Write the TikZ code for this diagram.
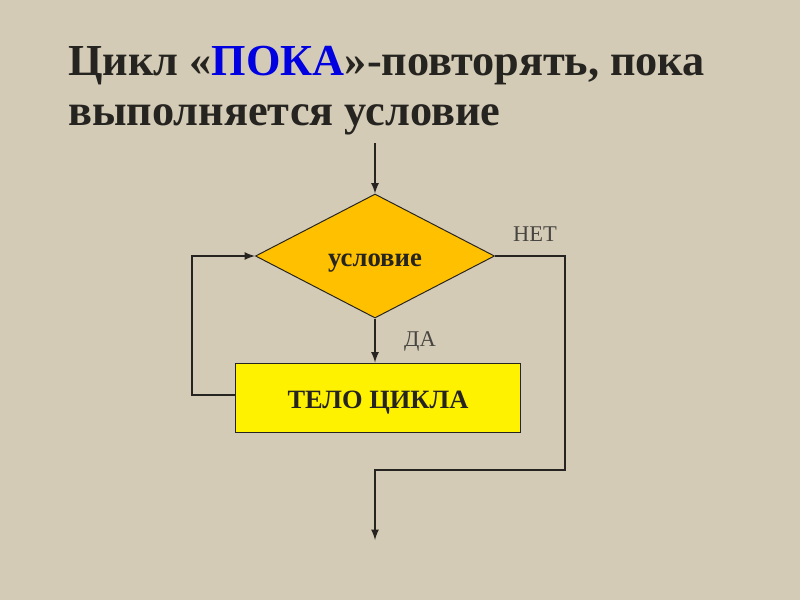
\documentclass[tikz,border=0pt]{standalone}
\usepackage{fontspec}
\setmainfont{Liberation Serif}
\usetikzlibrary{shapes.geometric}
\definecolor{linen}{RGB}{212,203,182}
\definecolor{ink}{RGB}{38,36,32}
\definecolor{amber}{RGB}{255,192,0}
\definecolor{pokablue}{RGB}{0,0,225}
\begin{document}
\begin{tikzpicture}[x=0.025cm, y=-0.025cm]
\tikzset{ >=latex,
  link/.style={->, ink, line width=1.5pt},
  cond/.style={diamond, draw=ink, fill=amber, line width=0.7pt, aspect=1.93,
    minimum width=5.975cm, minimum height=3.1cm, inner sep=0pt,
    font=\fontsize{19}{21}\selectfont\bfseries, text=ink},
  body/.style={rectangle, draw=ink, fill=yellow, line width=0.7pt,
    minimum width=7.1cm, minimum height=1.725cm, inner sep=0pt,
    font=\fontsize{18.8}{21}\selectfont\bfseries, text=ink},
  title/.style={anchor=base west, inner sep=0pt, text=ink,
    font=\fontsize{31.5}{38}\selectfont\bfseries},
  lbl/.style={inner sep=0pt, text=ink!85, font=\fontsize{16}{18}\selectfont},
}

\fill [linen] (0,0) rectangle (800,600);
\useasboundingbox (0,0) rectangle (800,600);

% heading
\node [title] (T1) at (68,75) {Цикл «\textcolor{pokablue}{ПОКА}»-повторять, пока};
\node [title] (T2) at (68,125) {выполняется условие};

% blocks
\node [cond] (C) at (375,256) {};
\node [body] (B) at (378,397.5) {};
\node [anchor=base, inner sep=0pt, font=\fontsize{19}{21}\selectfont\bfseries, text=ink] (CT) at (375,266) {условие};
\node [anchor=base, inner sep=0pt, font=\fontsize{18.8}{21}\selectfont\bfseries, text=ink] (BT) at (378,408) {ТЕЛО ЦИКЛА};

\coordinate (IN)  at (375,143);
\coordinate (OUT) at (375,540);
\coordinate (LL)  at (192,395);
\coordinate (LU)  at (192,256);
\coordinate (RU)  at (565,256);
\coordinate (RD)  at (565,470);
\coordinate (MD)  at (375,470);

\draw [link] (IN) -- (C.north);
\draw [link] (C.south) -- (C.south |- B.north);
\draw [link] (B.west |- LL) -- (LL) -- (LU) -- (C.west);
\draw [link] (C.east) -- (RU) -- (RD) -- (MD) -- (OUT);

\node [lbl] (NO)  at (535,234) {НЕТ};
\node [lbl] (YES) at (420,341) {ДА};

\end{tikzpicture}
\end{document}
